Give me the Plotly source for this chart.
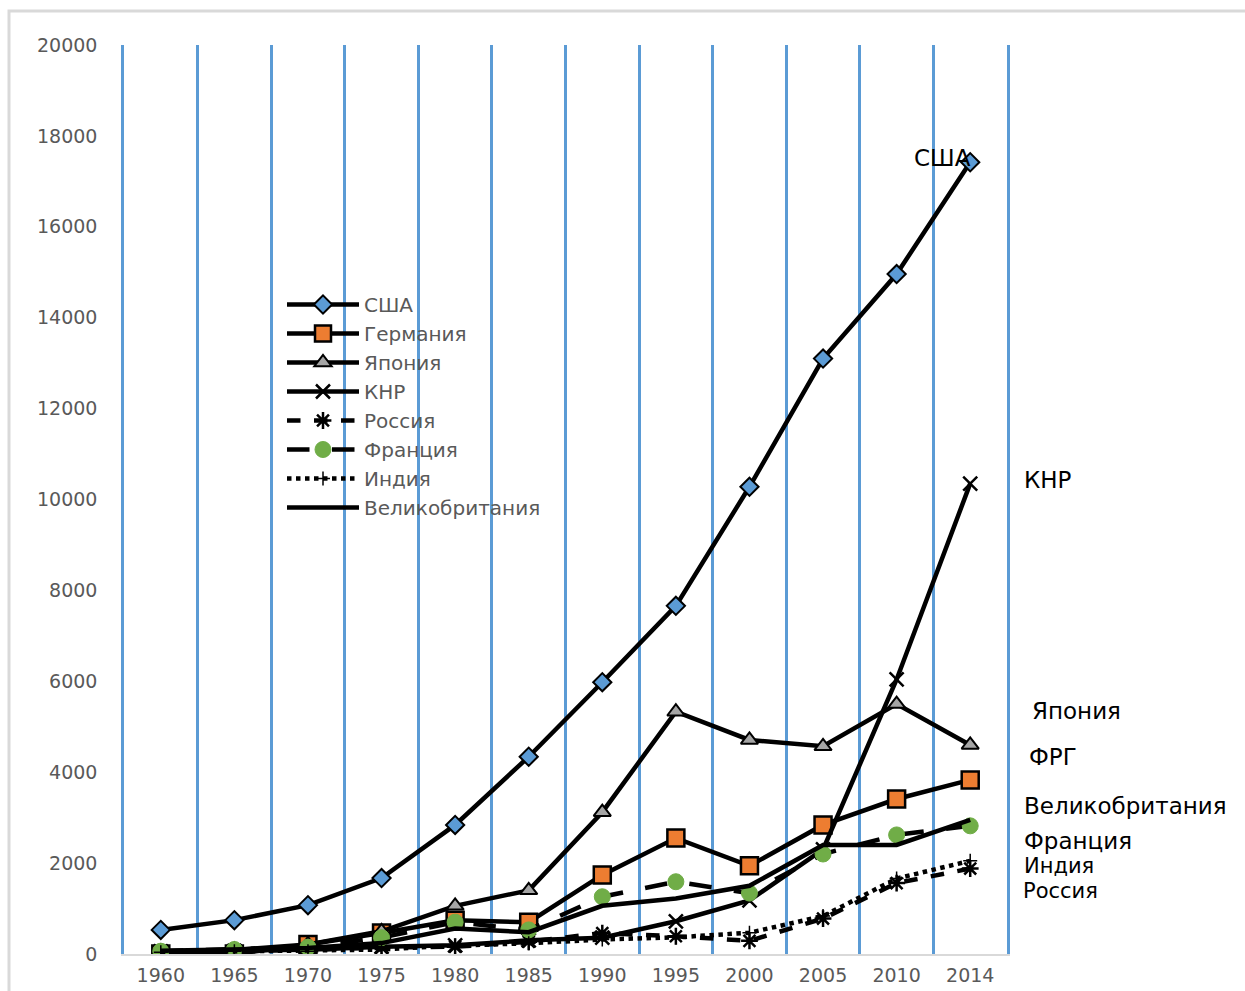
import plotly.graph_objects as go

years = ["1960", "1965", "1970", "1975", "1980", "1985", "1990", "1995", "2000", "2005", "2010", "2014"]

usa     = [530, 745, 1075, 1670, 2840, 4340, 5980, 7660, 10280, 13100, 14960, 17420]
germany = [0, 0, 210, 460, 740, 700, 1740, 2550, 1940, 2840, 3410, 3830]
japan   = [44, 90, 210, 500, 1060, 1400, 3120, 5330, 4710, 4570, 5500, 4600]
china   = [60, 70, 92, 160, 190, 300, 360, 720, 1180, 2300, 6040, 10350]
russia  = [40, 60, 90, 140, 160, 270, 460, 390, 290, 780, 1560, 1880]
france  = [62, 100, 150, 360, 700, 530, 1260, 1590, 1340, 2200, 2620, 2820]
india   = [37, 60, 62, 98, 186, 235, 320, 366, 468, 834, 1660, 2050]
uk      = [72, 100, 130, 240, 560, 480, 1060, 1220, 1500, 2400, 2400, 2950]

names = ["США", "Германия", "Япония", "КНР", "Россия", "Франция", "Индия", "Великобритания"]

y_ticks = list(range(0, 20001, 2000))
y_ticktext = [str(v) for v in y_ticks]

end_labels = ["США", "КНР", "Япония", "ФРГ", "Великобритания", "Франция", "Индия", "Россия"]
end_label_x = [912, 1022, 1030, 1027, 1022, 1022, 1022, 1021]
end_label_y = [158, 480, 711, 757, 806, 841, 866, 891]
end_label_size = [23, 23, 23, 23, 23, 23, 21, 21]

LW = 4.5
series = [
    (usa, dict(symbol="diamond", size=14, color="#5b9bd5", line=dict(color="black", width=2)), "solid"),
    (germany, dict(symbol="square", size=17, color="#ed7d31", line=dict(color="black", width=2.5)), "solid"),
    (japan, dict(symbol="triangle-up", size=15, color="#a5a5a5", line=dict(color="black", width=2)), "solid"),
    (china, dict(symbol="x-thin", size=14, color="black", line=dict(color="black", width=2.5)), "solid"),
    (russia, dict(symbol="asterisk", size=14, color="black", line=dict(color="black", width=2.5)), "dash"),
    (france, dict(symbol="circle", size=16, color="#70ad47", line=dict(color="#70ad47", width=1)), "longdash"),
    (india, dict(symbol="cross-thin", size=10, color="black", line=dict(color="black", width=1.5)), "dot"),
    (uk, None, "solid"),
]

fig = go.Figure()
for name, (vals, marker, dash) in zip(names, series):
    if marker is None:
        fig.add_trace(go.Scatter(x=years, y=vals, name=name, mode="lines",
                                 line=dict(color="black", width=LW, dash=dash)))
    else:
        fig.add_trace(go.Scatter(x=years, y=vals, name=name, mode="lines+markers",
                                 line=dict(color="black", width=LW, dash=dash),
                                 marker=marker))

W, H = 1245, 991
L, R, T, B = 124, 1007, 45, 954
pw, ph = R - L, B - T

def px2paper(x, y):
    return (x - L) / pw, (B - y) / ph

for txt, x, y, s in zip(end_labels, end_label_x, end_label_y, end_label_size):
    px, py = px2paper(x, y)
    fig.add_annotation(x=px, y=py, xref="paper", yref="paper", text=txt,
                       showarrow=False, xanchor="left", yanchor="middle",
                       font=dict(family="DejaVu Sans", size=s, color="black"))

bx0, by0 = px2paper(9, 11)
bx1, by1 = px2paper(1260, 1010)
fig.add_shape(type="rect", xref="paper", yref="paper", x0=bx0, y0=by1, x1=bx1, y1=by0,
              line=dict(color="#d9d9d9", width=3), fillcolor="rgba(0,0,0,0)", layer="below")

lx, ly = px2paper(282, 285)

fig.update_layout(
    width=W, height=H,
    margin=dict(l=L, r=W - R, t=T, b=H - B, autoexpand=False),
    paper_bgcolor="white", plot_bgcolor="white",
    showlegend=True,
    legend=dict(x=lx, y=ly, xanchor="left", yanchor="top",
                font=dict(family="DejaVu Sans", size=20, color="#595959"),
                bgcolor="rgba(0,0,0,0)", itemwidth=72, tracegroupgap=0),
    xaxis=dict(type="category", tickson="boundaries", showgrid=True,
               gridcolor="#5b9bd5", gridwidth=2.5, range=[-0.5, 11.5],
               showline=True, linecolor="#d9d9d9", linewidth=2,
               ticks="", ticklabelstandoff=3, zeroline=False, automargin=False,
               tickfont=dict(family="DejaVu Sans", size=19, color="#595959")),
    yaxis=dict(range=[0, 20000], tickvals=y_ticks, ticktext=y_ticktext,
               showgrid=False, zeroline=False, ticks="", automargin=False,
               showline=True, linecolor="#5b9bd5", linewidth=2.5, mirror=True,
               ticklabelstandoff=20,
               tickfont=dict(family="DejaVu Sans", size=19, color="#595959")),
)

fig.write_html("out.html")
